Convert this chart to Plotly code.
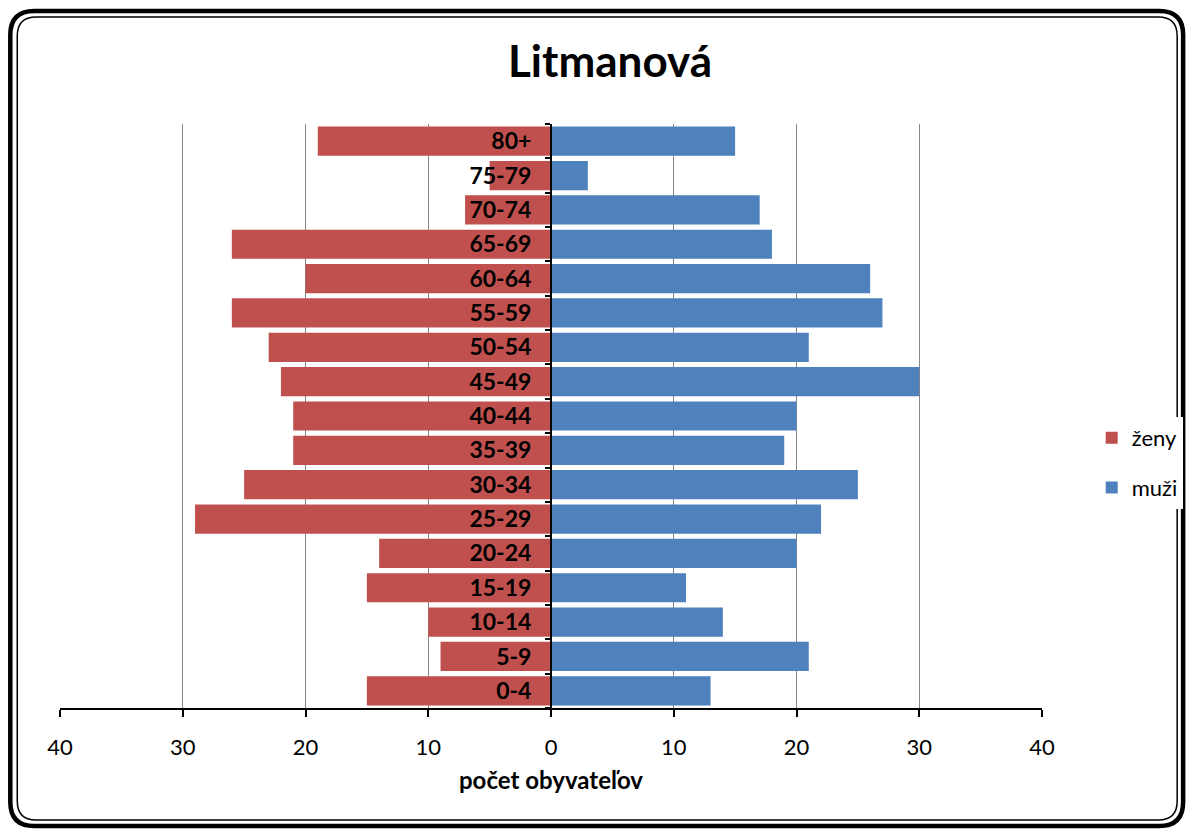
import plotly.graph_objects as go

categories = ["0-4", "5-9", "10-14", "15-19", "20-24", "25-29", "30-34", "35-39",
              "40-44", "45-49", "50-54", "55-59", "60-64", "65-69", "70-74", "75-79", "80+"]
zeny = [15, 9, 10, 15, 14, 29, 25, 21, 21, 22, 23, 26, 20, 26, 7, 5, 19]
muzi = [13, 21, 14, 11, 20, 22, 25, 19, 20, 30, 21, 27, 26, 18, 17, 3, 15]
x_ticks = [-40, -30, -20, -10, 0, 10, 20, 30, 40]
x_ticklabels = ["40", "30", "20", "10", "0", "10", "20", "30", "40"]

OFF = 8  # page body margin
W, H = 1195 - OFF, 829 - OFF
L, R, T, B = 60 - OFF, 1048 - OFF, 124 - OFF, 708 - OFF
FONT = "Lato"


def px(x):
    return (x - OFF - L) / (R - L)


def py(y):
    return (B - (y - OFF)) / (B - T)


def rounded_rect(x0, y0, x1, y1, r):
    pts = [
        f"M {px(x0 + r)} {py(y0)}",
        f"L {px(x1 - r)} {py(y0)}",
        f"Q {px(x1)} {py(y0)} {px(x1)} {py(y0 + r)}",
        f"L {px(x1)} {py(y1 - r)}",
        f"Q {px(x1)} {py(y1)} {px(x1 - r)} {py(y1)}",
        f"L {px(x0 + r)} {py(y1)}",
        f"Q {px(x0)} {py(y1)} {px(x0)} {py(y1 - r)}",
        f"L {px(x0)} {py(y0 + r)}",
        f"Q {px(x0)} {py(y0)} {px(x0 + r)} {py(y0)}",
        "Z",
    ]
    return " ".join(pts)


fig = go.Figure()
fig.add_trace(go.Bar(
    y=categories, x=[-v for v in zeny], orientation="h", name="ženy",
    marker=dict(color="#C0504D", line=dict(width=0)), legendgroup="z",
))
fig.add_trace(go.Bar(
    y=categories, x=muzi, orientation="h", name="muži",
    marker=dict(color="#4F81BD", line=dict(width=0)), legendgroup="m",
))

fig.update_layout(
    width=W, height=H,
    margin=dict(l=L, r=W - R, t=T, b=H - B),
    paper_bgcolor="white", plot_bgcolor="white",
    barmode="relative", bargap=0.15,
    font=dict(family=FONT, color="black", size=20),
    title=dict(text="<b>Litmanová</b>", x=(610 - OFF) / W, xanchor="center",
               y=1 - (62 - OFF) / H, yanchor="middle",
               font=dict(family=FONT, size=44, color="black")),
    legend=dict(x=px(1098), xanchor="left", y=py(463), yanchor="middle",
                font=dict(family=FONT, size=22, color="black"),
                tracegroupgap=18, traceorder="grouped", itemwidth=30),
    showlegend=True,
)

fig.update_xaxes(
    range=[-40, 40], tickvals=x_ticks, ticktext=x_ticklabels,
    showgrid=True, gridcolor="#868686", gridwidth=1,
    zeroline=False, showline=True, linecolor="black", linewidth=2,
    ticks="outside", ticklen=7, tickwidth=2, tickcolor="black",
    ticklabelstandoff=12,
    tickfont=dict(family=FONT, size=22, color="black"),
    title=dict(text="<b>počet obyvateľov</b>", standoff=13,
               font=dict(family=FONT, size=24, color="black")),
)
fig.update_yaxes(
    type="category", anchor="free", position=0.5,
    showline=True, linecolor="black", linewidth=2,
    ticks="outside", ticklen=5, tickwidth=2, tickcolor="black",
    tickson="boundaries", showgrid=False, ticklabelstandoff=14,
    tickfont=dict(family=FONT, size=23, color="black", weight="bold"),
)

fig.add_shape(type="path", xref="paper", yref="paper",
              path=rounded_rect(10, 11, 1190, 826, 24),
              line=dict(color="black", width=4.5), layer="above")
fig.add_shape(type="path", xref="paper", yref="paper",
              path=rounded_rect(17, 17, 1184, 820, 19),
              line=dict(color="black", width=1.5), layer="above")

fig.write_html("out.html")
